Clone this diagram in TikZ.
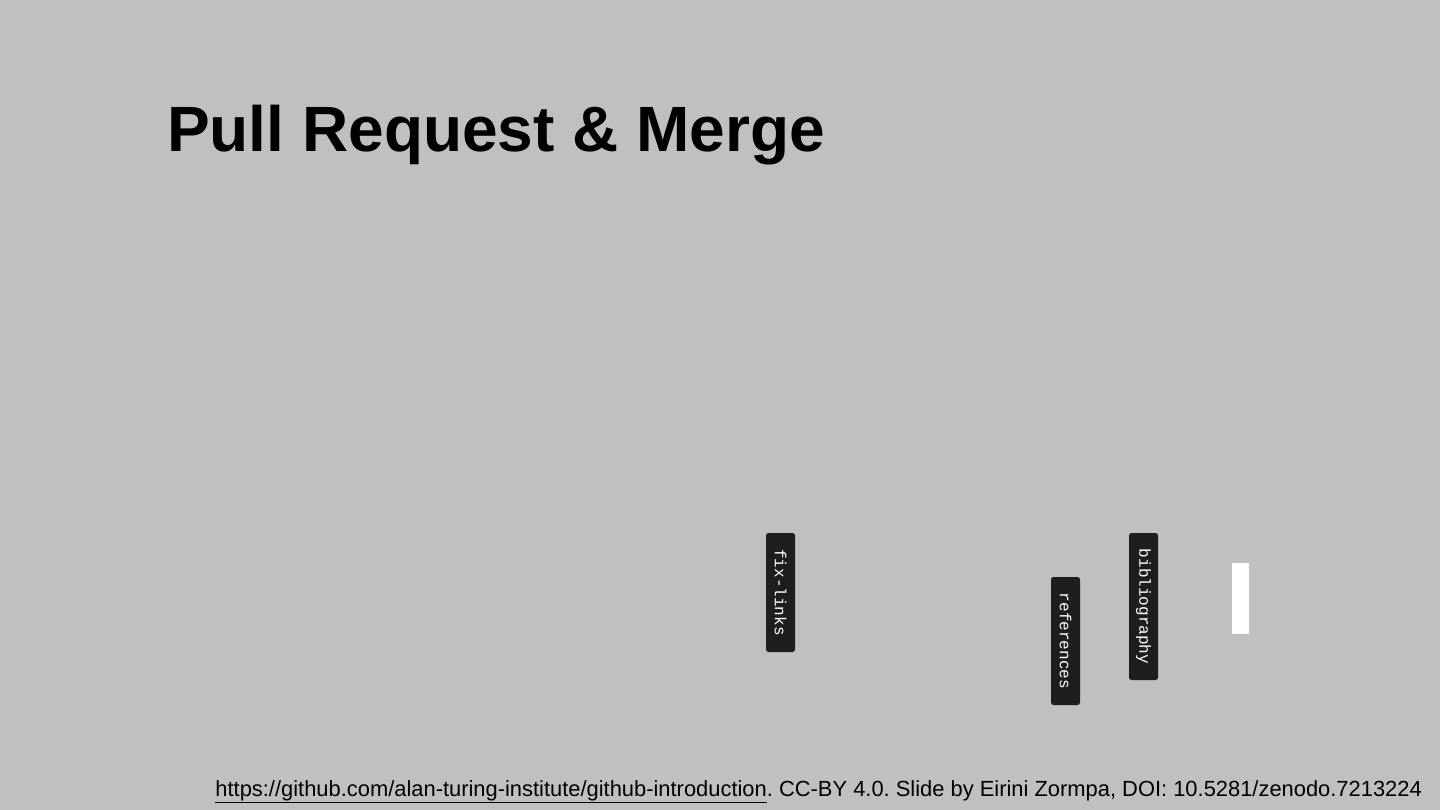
\documentclass[tikz,border=0pt]{standalone}
\usepackage{fontspec}
\setmainfont{Liberation Sans}
\newfontfamily\tagmono{Liberation Mono}
\frenchspacing
\begin{document}
\begin{tikzpicture}[x=1pt,y=-1pt,
  tagbox/.style={fill=tagdark,text=white,rounded corners=2.5pt,rotate=-90,inner sep=0pt,minimum height=29pt,font=\tagmono\fontsize{16}{16}\selectfont},
  title/.style={font=\bfseries\fontsize{64}{64}\selectfont,anchor=base west,inner sep=0pt},
  footer/.style={font=\fontsize{21.9}{22}\selectfont,anchor=base east,inner sep=0pt}]
\definecolor{bg}{HTML}{C0C0C0}
\definecolor{tagdark}{HTML}{1E1E1E}
\fill[bg] (0,0) rectangle (1440,810);
\useasboundingbox (0,0) rectangle (1440,810);
\node[title] (title) at (167,152) {Pull Request \& Merge};
\node[tagbox,minimum width=119pt] (fix) at (780.5,592.5) {fix-links};
\node[tagbox,minimum width=128pt] (ref) at (1065.5,641) {references};
\node[tagbox,minimum width=147pt] (bib) at (1143.5,606.5) {bibliography};
\fill[white] (1232,563) rectangle (1249,634);
\node[footer] (foot) at (1422,796) {\underline{https://github.com/alan-turing-institute/github-introduction}. CC-BY 4.0. Slide by Eirini Zormpa, DOI: 10.5281/zenodo.7213224};
\end{tikzpicture}
\end{document}
